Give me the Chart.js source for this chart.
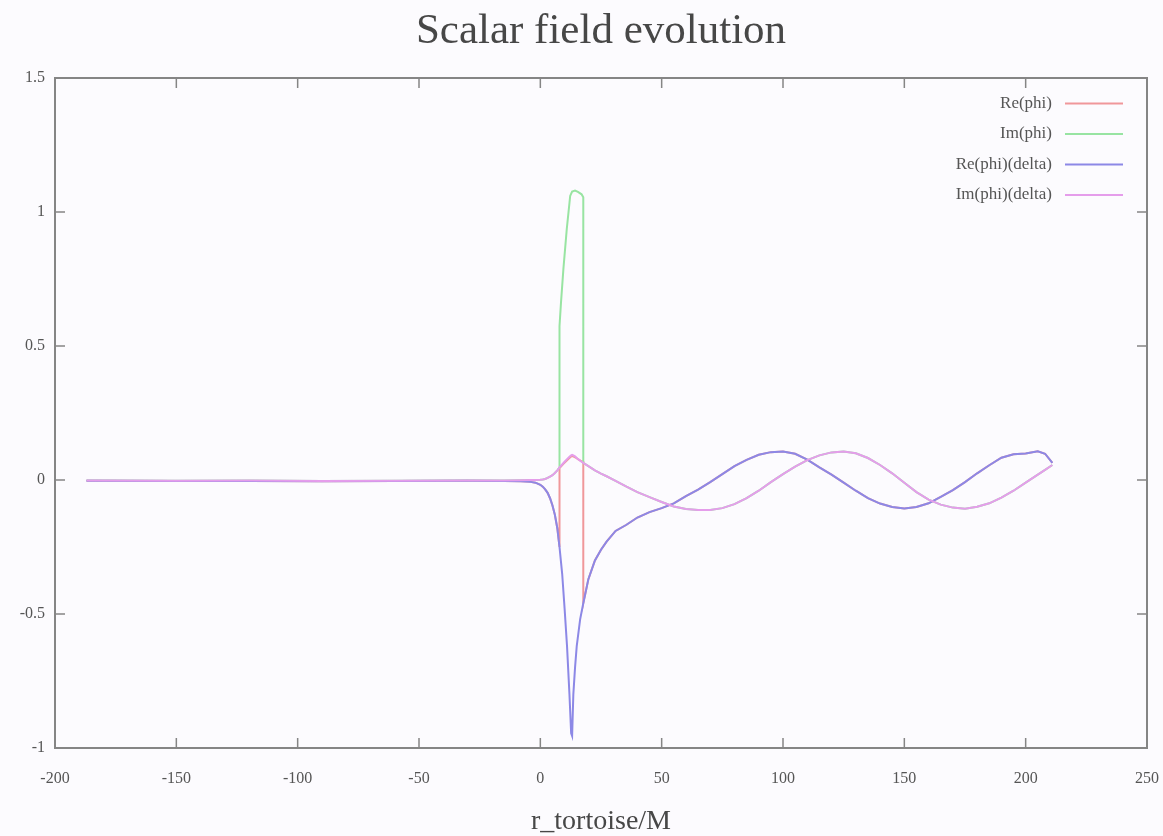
<!DOCTYPE html>
<html>
<head>
<meta charset="utf-8">
<title>Scalar field evolution</title>
<script src="https://cdn.jsdelivr.net/npm/chart.js@4"></script>
<style>
    body { margin: 0; background: #fcfbfe; }
    canvas { display: block; }
</style>
</head>
<body>
<canvas id="myChart" width="1163" height="836"></canvas>
<script>
// r_tortoise/M sample points for the delta runs
const rDelta = [-187, -150, -120, -90, -60, -30, -15, -8, -4, -2, 0, 1, 2, 3, 4, 5, 6, 7, 7.9,
    9, 10, 11, 12, 12.7, 13.1, 13.6, 14.3, 15, 16.4, 17.7, 19.8, 22.5, 25, 27.3, 31, 35.5, 40, 45,
    50, 55, 60, 65, 70, 75, 80, 85, 90, 95, 100, 105, 110, 115, 120, 125, 130, 135, 140, 145,
    150, 155, 160, 165, 170, 175, 180, 185, 190, 195, 200, 205, 208, 211];
const reDelta = [-0.003, -0.004, -0.004, -0.005, -0.004, -0.003, -0.004, -0.005, -0.007, -0.01, -0.018, -0.025, -0.035, -0.048, -0.068, -0.095, -0.13, -0.18, -0.25,
    -0.35, -0.48, -0.62, -0.8, -0.945, -0.955, -0.8, -0.7, -0.62, -0.52, -0.46, -0.37, -0.3, -0.26, -0.23, -0.19, -0.167, -0.14, -0.12,
    -0.105, -0.087, -0.06, -0.036, -0.008, 0.022, 0.052, 0.075, 0.094, 0.104, 0.106, 0.098, 0.076, 0.047, 0.02, -0.01, -0.04, -0.068, -0.088, -0.101,
    -0.106, -0.101, -0.087, -0.063, -0.038, -0.008, 0.025, 0.055, 0.083, 0.096, 0.099, 0.107, 0.098, 0.064];
const imDelta = [-0.002, -0.003, -0.002, -0.004, -0.003, -0.002, -0.002, -0.001, 0, 0, 0.001, 0.002, 0.004, 0.008, 0.013, 0.018, 0.026, 0.036, 0.047,
    0.058, 0.068, 0.078, 0.087, 0.092, 0.094, 0.092, 0.088, 0.082, 0.072, 0.064, 0.052, 0.036, 0.024, 0.014, -0.003, -0.025, -0.045, -0.064,
    -0.082, -0.099, -0.108, -0.112, -0.112, -0.105, -0.09, -0.068, -0.04, -0.008, 0.022, 0.05, 0.074, 0.092, 0.103, 0.106, 0.1, 0.082, 0.056, 0.025,
    -0.01, -0.045, -0.073, -0.092, -0.103, -0.107, -0.1, -0.087, -0.066, -0.04, -0.01, 0.02, 0.038, 0.056];

// window where the plain run differs from the delta run
const rWindow = [7.9, 8.5, 9.5, 10.9, 12.3, 13.1, 14.3, 15.5, 17, 17.7];
const reWindow = [0.045, 0.05, 0.06, 0.073, 0.085, 0.09, 0.085, 0.078, 0.07, 0.068];
const imWindow = [0.574, 0.66, 0.787, 0.937, 1.06, 1.076, 1.08, 1.075, 1.066, 1.055];

const xTicks = [-200, 250, 50];   // min, max, step
const yTicks = [-1, 1.5, 0.5];

const seriesNames = ['Re(phi)', 'Im(phi)', 'Re(phi)(delta)', 'Im(phi)(delta)'];
const seriesColors = ['#f0979a', '#98e4a2', '#8c88e6', '#e59deb'];

function toPoints(xs, ys) {
    return xs.map((x, i) => ({x: x, y: ys[i]}));
}

// plain run = delta run outside the window, window values inside
function withWindow(deltaYs, winYs) {
    const lo = rWindow[0], hi = rWindow[rWindow.length - 1];
    const pts = [];
    rDelta.forEach((x, i) => { if (x <= lo) pts.push({x: x, y: deltaYs[i]}); });
    rWindow.forEach((x, i) => pts.push({x: x, y: winYs[i]}));
    rDelta.forEach((x, i) => { if (x >= hi) pts.push({x: x, y: deltaYs[i]}); });
    return pts;
}

const seriesData = [
    withWindow(reDelta, reWindow),
    withWindow(imDelta, imWindow),
    toPoints(rDelta, reDelta),
    toPoints(rDelta, imDelta)
];

const serifFont = "'Liberation Serif', 'Times New Roman', serif";
const textColor = '#555';
const frameColor = '#858585';

// gnuplot style frame, inward ticks and key
const gnuplotLook = {
    id: 'gnuplotLook',
    afterDraw(chart) {
        const c = chart.ctx;
        const a = chart.chartArea;
        const xs = chart.scales.x, ys = chart.scales.y;
        c.save();
        c.strokeStyle = frameColor;
        c.lineWidth = 2;
        c.strokeRect(a.left, a.top, a.right - a.left, a.bottom - a.top);
        c.lineWidth = 1.5;
        c.beginPath();
        xs.ticks.forEach(t => {
            const px = xs.getPixelForValue(t.value);
            c.moveTo(px, a.bottom); c.lineTo(px, a.bottom - 10);
            c.moveTo(px, a.top); c.lineTo(px, a.top + 10);
        });
        ys.ticks.forEach(t => {
            const py = ys.getPixelForValue(t.value);
            c.moveTo(a.left, py); c.lineTo(a.left + 10, py);
            c.moveTo(a.right, py); c.lineTo(a.right - 10, py);
        });
        c.stroke();

        // key
        c.font = '17px ' + serifFont;
        c.textAlign = 'right';
        c.textBaseline = 'middle';
        seriesNames.forEach((name, i) => {
            const y = a.top + 25.5 + i * 30.5;
            c.fillStyle = textColor;
            c.fillText(name, a.right - 95, y);
            c.strokeStyle = seriesColors[i];
            c.lineWidth = 2;
            c.beginPath();
            c.moveTo(a.right - 82, y);
            c.lineTo(a.right - 24, y);
            c.stroke();
        });
        c.restore();
    }
};

const ctx = document.getElementById('myChart').getContext('2d');

const myChart = new Chart(ctx, {
    type: 'line',
    data: {
        datasets: seriesData.map((pts, i) => ({
            label: seriesNames[i],
            data: pts,
            borderColor: seriesColors[i],
            backgroundColor: seriesColors[i],
            borderWidth: 2,
            pointRadius: 0,
            tension: 0,
            fill: false,
            order: 4 - i
        }))
    },
    options: {
        responsive: false,
        animation: false,
        layout: { padding: { left: 0, right: 16, top: 0, bottom: 0 } },
        plugins: {
            legend: { display: false },
            tooltip: { enabled: false },
            title: {
                display: true,
                fullSize: false,
                text: 'Scalar field evolution',
                color: '#474747',
                font: { family: serifFont, size: 43, weight: 'normal', lineHeight: 1 },
                padding: { top: 10, bottom: 25 }
            }
        },
        scales: {
            x: {
                type: 'linear',
                min: xTicks[0],
                max: xTicks[1],
                grid: { display: false, drawTicks: false },
                border: { display: false },
                ticks: {
                    stepSize: xTicks[2],
                    color: textColor,
                    padding: 21,
                    maxRotation: 0,
                    font: { family: serifFont, size: 16 },
                    callback: v => String(v)
                },
                title: {
                    display: true,
                    text: 'r_tortoise/M',
                    color: '#474747',
                    padding: 0,
                    font: { family: serifFont, size: 28, lineHeight: 1 }
                },
                afterFit: s => { s.height = 88; s.paddingLeft = 0; s.paddingRight = 0; }
            },
            y: {
                type: 'linear',
                min: yTicks[0],
                max: yTicks[1],
                grid: { display: false, drawTicks: false },
                border: { display: false },
                ticks: {
                    stepSize: yTicks[2],
                    color: textColor,
                    padding: 10,
                    font: { family: serifFont, size: 16 },
                    callback: v => String(v)
                },
                afterFit: s => { s.width = 55; s.paddingTop = 0; s.paddingBottom = 0; }
            }
        }
    },
    plugins: [gnuplotLook]
});
</script>
</body>
</html>
